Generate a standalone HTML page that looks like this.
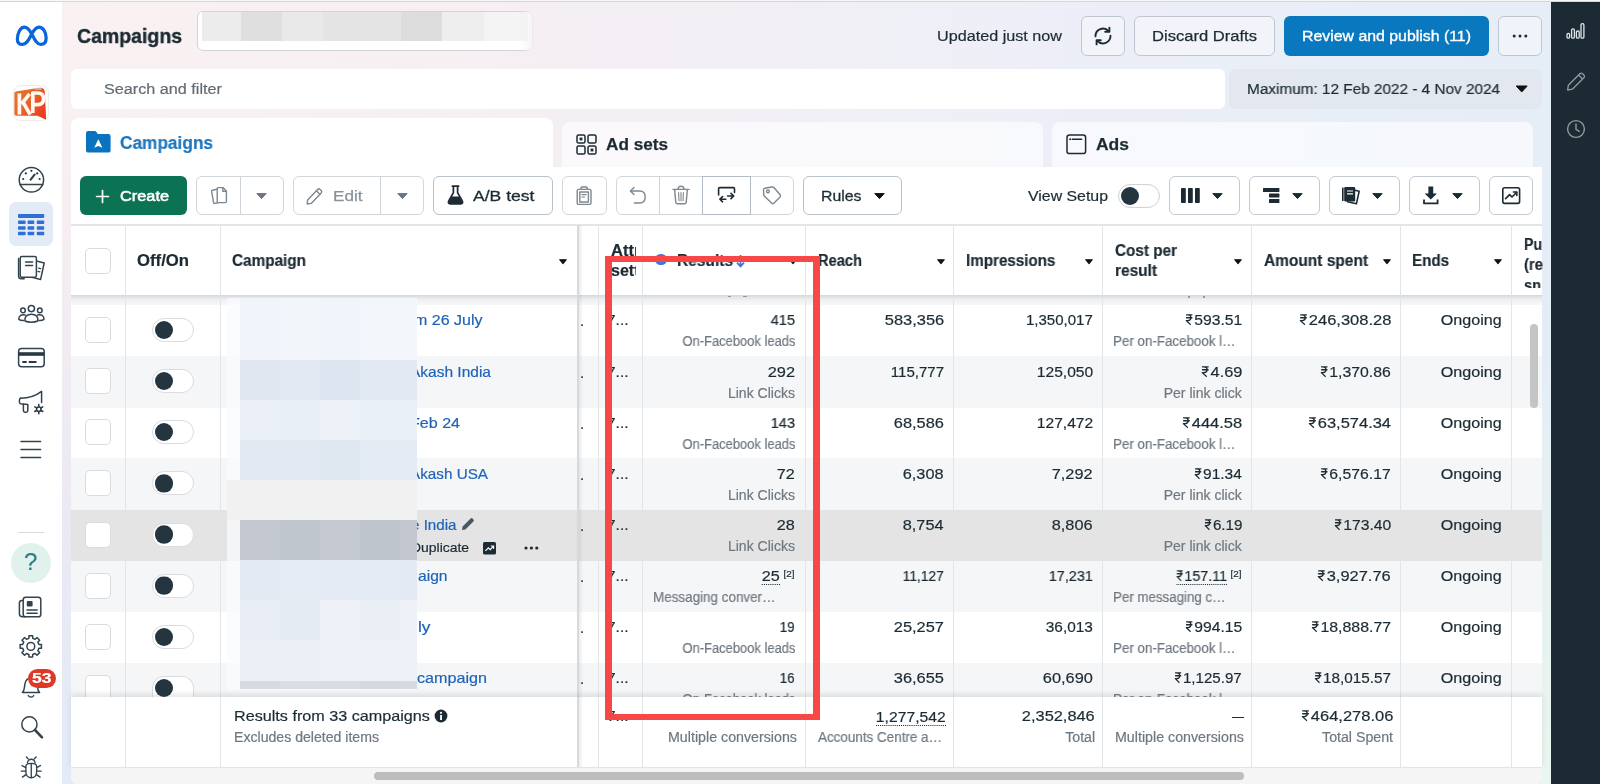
<!DOCTYPE html>
<html><head><meta charset="utf-8"><title>Campaigns</title>
<style>
html,body{margin:0;padding:0;}
body{width:1600px;height:784px;overflow:hidden;position:relative;font-family:"Liberation Sans",sans-serif;background:#fff;}
body>div,body>svg,body>span{position:absolute;display:block;box-sizing:border-box;}
.t{white-space:pre;font-family:"Liberation Sans",sans-serif;will-change:transform;-webkit-text-stroke:.2px currentColor;}
svg{overflow:visible;}
.btn{border:1px solid #c8d0d8;border-radius:5px;background:#fff;}
</style></head>
<body>
<div style="left:0px;top:0px;width:1600px;height:784px;background:linear-gradient(90deg,#faf1f1 0%,#f6eff3 30%,#efeff7 58%,#e8eef7 85%,#e5edf6 100%);"></div>
<div style="left:62px;top:110px;width:9px;height:674px;background:linear-gradient(180deg,#f9f0f1 0%,#f3ecf2 30%,#ebe9f4 60%,#e2ebf7 100%);"></div>
<div style="left:62px;top:740px;width:30px;height:44px;background:#e3ebf7;"></div>
<div style="left:0px;top:0px;width:62px;height:784px;background:#fff;"></div>
<div style="left:1541px;top:0px;width:10px;height:784px;background:linear-gradient(180deg,#e6edf6 0%,#e4edf6 45%,#e7f2f1 75%,#e9f5ee 100%);"></div>
<div style="left:1551px;top:0px;width:49px;height:784px;background:#1c2b33;"></div>
<div style="left:0px;top:0px;width:1600px;height:1px;background:#f7f7f7;"></div>
<div style="left:0px;top:1px;width:1600px;height:1px;background:#d6d6d6;"></div>
<svg style="left:13.5px;top:23.6px;" width="35.5" height="24" viewBox="0 0 34 23"><path d="M3.2 14.5 C3.2 8.5 6.3 3 10 3 C13.2 3 15.2 6.2 17 9.6 C19.2 13.8 21.6 19.6 25.6 19.6 C28.9 19.6 30.8 17.2 30.8 13.4 C30.8 8 27.8 3 24 3 C20.8 3 18.8 6.2 17 9.6 C14.6 14 12.4 19.6 8.2 19.6 C5 19.6 3.2 17.6 3.2 14.5 Z" fill="none" stroke="#0a64dc" stroke-width="3.1" stroke-linejoin="round"/></svg>
<svg style="left:12.5px;top:84.5px;" width="36" height="36" viewBox="0 0 36 36"><defs><linearGradient id="kpg" x1="0" y1="0" x2="1" y2=".6"><stop offset="0" stop-color="#e0782c"/><stop offset=".5" stop-color="#e8642a"/><stop offset="1" stop-color="#ea3f20"/></linearGradient></defs><rect x=".5" y=".5" width="35" height="35" rx="7" fill="#fffdfc" stroke="#ececee" stroke-width="1"/><path d="M1.4 8.4 Q1.2 6.8 2.8 6.5 L26.6 2.8 Q31.2 2.3 31.8 6.8 L33.2 34.8 L24.4 30.8 L3.2 30.8 Q1.4 30.8 1.4 28.8 Z" fill="url(#kpg)"/><g fill="none" stroke="#fff8f0" stroke-width="3.7" stroke-linejoin="round"><path d="M6.4 8.4 V29.6"/><path d="M16.6 8.8 L8.4 19.2"/><path d="M10.2 17.4 L17.2 29.6"/><path d="M19.8 28 V8 H24.8 Q30.6 8 30.6 13.8 Q30.6 19.6 24.8 19.6 H19.8"/></g><rect x="22" y="3.2" width="6.4" height="1.5" fill="#c6c6c6"/></svg>
<svg style="left:17px;top:165px;" width="30" height="30" viewBox="0 0 30 30"><g fill="none" stroke="#33434d" stroke-width="1.5" stroke-linecap="round" stroke-linejoin="round"><circle cx="14.4" cy="14.8" r="12.2"/><path d="M3 19.4 H25.8"/><path d="M13.6 14.6 L17.6 9.6" stroke-width="2.2"/></g><g fill="#283943"><circle cx="6.2" cy="14" r="1.1"/><circle cx="8.8" cy="8.4" r="1.1"/><circle cx="14.4" cy="5.8" r="1.1"/><circle cx="20.2" cy="8.4" r="1.1"/><circle cx="22.6" cy="14" r="1.1"/></g></svg>
<div style="left:9px;top:202px;width:44px;height:44px;background:#e2ebf6;border-radius:7px;"></div>
<svg style="left:18px;top:214px;" width="27" height="22" viewBox="0 0 27 22"><g fill="#2f6fd6"><rect x="0" y="0" width="26.2" height="4" rx="1"/><rect x="0" y="6.6" width="7.6" height="3.4" rx=".8"/><rect x="9.6" y="6.6" width="6.6" height="3.4" rx=".8"/><rect x="18.8" y="6.6" width="7.4" height="3.4" rx=".8"/><rect x="0" y="12.3" width="7.6" height="3.4" rx=".8"/><rect x="9.6" y="12.3" width="6.6" height="3.4" rx=".8"/><rect x="18.8" y="12.3" width="7.4" height="3.4" rx=".8"/><rect x="0" y="17.8" width="7.6" height="3.4" rx=".8"/><rect x="9.6" y="17.8" width="6.6" height="3.4" rx=".8"/><rect x="18.8" y="17.8" width="7.4" height="3.4" rx=".8"/></g></svg>
<svg style="left:17px;top:254px;" width="30" height="28" viewBox="0 0 30 28"><g fill="none" stroke="#33434d" stroke-width="1.5" stroke-linecap="round" stroke-linejoin="round"><path d="M20.5 7.2 L27.2 9 L23.6 25.4 L13 22.8" /><rect x="3.2" y="2.6" width="16.2" height="20.6" rx="1.6" fill="#fff"/><path d="M1.6 4.6 V22 Q1.6 24.8 4.4 24.8 H7.2"/><path d="M8.6 8 H15.6 M8.6 11.6 H15.6"/><path d="M21.6 14.2 L23.6 14.7 M21 17.4 L22.8 17.9" stroke-width="1.3"/></g></svg>
<svg style="left:17px;top:302px;" width="30" height="26" viewBox="0 0 30 26"><g fill="none" stroke="#33434d" stroke-width="1.5" stroke-linecap="round" stroke-linejoin="round" stroke-width="1.5"><circle cx="14.4" cy="6.6" r="3.1"/><circle cx="6" cy="8.4" r="2.3"/><circle cx="22.8" cy="8.4" r="2.3"/><path d="M8 19 C7.4 15 9.8 12.2 14.4 12.2 C19 12.2 21.4 15 20.8 19 C17.4 20.6 11.4 20.6 8 19 Z"/><path d="M8.2 13 C4.8 12 1.6 13.8 1.8 17.4 C3.4 18.4 5.2 18.6 6.8 18.4"/><path d="M20.6 13 C24 12 27.2 13.8 27 17.4 C25.4 18.4 23.6 18.6 22 18.4"/></g></svg>
<svg style="left:17px;top:346px;" width="30" height="24" viewBox="0 0 30 24"><g fill="none" stroke="#33434d" stroke-width="1.5" stroke-linecap="round" stroke-linejoin="round"><rect x="1.6" y="2.6" width="25.6" height="18.2" rx="3"/></g><rect x="1.6" y="6.2" width="25.6" height="3.6" fill="#283943"/><rect x="5.2" y="15" width="4.6" height="1.9" rx=".6" fill="#283943"/><rect x="11.6" y="15" width="8" height="1.9" rx=".6" fill="#283943"/></svg>
<svg style="left:17px;top:388px;" width="30" height="28" viewBox="0 0 30 28"><g fill="none" stroke="#33434d" stroke-width="1.5" stroke-linecap="round" stroke-linejoin="round"><path d="M3.4 10.2 C10 10.2 18 8.6 24.6 3.4 V14.6"/><path d="M3.4 10.2 C2 10.8 2 15 3.4 15.8 C5.4 16 8 16.2 10.4 16.4"/><path d="M6.4 16.2 V22.6 Q6.4 24.2 8 24.2 H9.2 Q10.8 24.2 10.8 22.6 V16.6"/></g><g fill="none" stroke="#283943" stroke-width="1.5"><circle cx="21.8" cy="21.2" r="2.2"/><path d="M21.8 16.6 v2 M21.8 23.8 v2 M17.8 18.9 l1.7 1 M24.1 22.5 l1.7 1 M17.8 23.5 l1.7-1 M24.1 19.9 l1.7-1" stroke-linecap="round"/></g></svg>
<svg style="left:20px;top:437.5px;" width="22" height="24" viewBox="0 0 22 24"><g fill="none" stroke="#33434d" stroke-width="1.5" stroke-linecap="round" stroke-linejoin="round" stroke-width="1.5"><path d="M1 3.6 H20.6 M1 11.6 H20.6 M1 19.6 H20.6"/></g></svg>
<div style="left:18px;top:532px;width:26px;height:1px;background:#d6dade;"></div>
<div style="left:11px;top:542.5px;width:40px;height:40px;background:#e1f2ed;border-radius:50%;"></div>
<span class="t" style="top:549.3px;font-size:24px;line-height:26px;color:#2a7f86;left:31px;transform-origin:0 0;margin-left:-6.6px;">?</span>
<svg style="left:17px;top:594px;" width="30" height="26" viewBox="0 0 30 26"><g fill="none" stroke="#33434d" stroke-width="1.5" stroke-linecap="round" stroke-linejoin="round"><rect x="6.2" y="3.2" width="17.6" height="19.6" rx="2.6"/><path d="M6.2 6.6 H5 Q2.4 6.6 2.4 9.2 V19.8 Q2.4 22.8 5.4 22.8 H8"/><path d="M10 16 H20.2 M10 19.2 H20.2" stroke-width="1.4"/></g><rect x="9.8" y="7" width="5.8" height="5.6" rx="1" fill="#33434d"/></svg>
<svg style="left:17px;top:632px;" width="28" height="28" viewBox="0 0 28 28"><g fill="none" stroke="#33434d" stroke-width="1.5" stroke-linecap="round" stroke-linejoin="round"><path d="M11.94 3.76 L15.66 3.76 L15.74 6.33 L18.14 7.32 L20.01 5.56 L22.64 8.19 L20.88 10.06 L21.87 12.46 L24.44 12.54 L24.44 16.26 L21.87 16.34 L20.88 18.74 L22.64 20.61 L20.01 23.24 L18.14 21.48 L15.74 22.47 L15.66 25.04 L11.94 25.04 L11.86 22.47 L9.46 21.48 L7.59 23.24 L4.96 20.61 L6.72 18.74 L5.73 16.34 L3.16 16.26 L3.16 12.54 L5.73 12.46 L6.72 10.06 L4.96 8.19 L7.59 5.56 L9.46 7.32 L11.86 6.33 Z"/><circle cx="13.8" cy="14.4" r="3.9"/></g></svg>
<svg style="left:18px;top:672px;" width="28" height="30" viewBox="0 0 28 30"><g fill="none" stroke="#33434d" stroke-width="1.5" stroke-linecap="round" stroke-linejoin="round"><path d="M4.4 20.6 C6.8 18.4 6.2 15 7 11.6 C7.8 8 10 6 13 6 C16 6 18.2 8 19 11.6 C19.8 15 19.2 18.4 21.6 20.6 Z"/><path d="M10.4 23.6 C11 25.6 15 25.6 15.6 23.6"/></g></svg>
<div style="left:27.5px;top:668.5px;width:28.5px;height:19px;background:#dc3a26;border-radius:10px;"></div>
<span class="t" style="top:670.0px;font-size:14px;line-height:16px;color:#fff;font-weight:700;left:32px;transform-origin:0 0;transform:scaleX(1.252);">53</span>
<svg style="left:18px;top:713px;" width="28" height="28" viewBox="0 0 28 28"><g fill="none" stroke="#33434d" stroke-width="1.5" stroke-linecap="round" stroke-linejoin="round" stroke-width="1.9"><circle cx="11.4" cy="11.4" r="7.6"/><path d="M17 17 L24 24.4" stroke-width="2.6"/></g></svg>
<svg style="left:17px;top:753px;" width="30" height="30" viewBox="0 0 30 30"><g fill="none" stroke="#33434d" stroke-width="1.5" stroke-linecap="round" stroke-linejoin="round" transform="translate(1.3 1.6) scale(.9)"><path d="M8.4 13.2 C8.4 8.6 20.4 8.6 20.4 13.2 V19 C20.4 28 8.4 28 8.4 19 Z"/><path d="M14.4 10 V25.4"/><path d="M10.2 9.4 C10 3.8 18.8 3.8 18.6 9.4"/><path d="M8.4 14.4 L4.2 12.2 M8.4 18.4 H3.4 M8.6 22.2 L4.6 25 M20.4 14.4 L24.6 12.2 M20.4 18.4 H25.4 M20.2 22.2 L24.2 25 M11 4.8 L9 2.6 M17.8 4.8 L19.8 2.6"/></g></svg>
<svg style="left:1566px;top:22px;" width="20" height="18" viewBox="0 0 20 18"><g fill="none" stroke="#dfe5ea" stroke-width="1.3" stroke-linecap="round" stroke-linejoin="round"><rect x="1" y="11.4" width="2.6" height="4.8" rx="1.2"/><rect x="5.6" y="6.8" width="2.8" height="9.4" rx="1.3"/><rect x="10.4" y="9" width="2.8" height="7.2" rx="1.3"/><rect x="15" y="1.6" width="2.9" height="14.6" rx="1.3"/></g></svg>
<svg style="left:1566px;top:70px;" width="22" height="22" viewBox="0 0 22 22"><g fill="none" stroke="#8f9aa2" stroke-width="1.3" stroke-linejoin="round"><path d="M2.4 15.2 L13.8 3.8 Q15.2 2.4 16.6 3.8 L17.8 5 Q19.2 6.4 17.8 7.8 L6.4 19.2 L1.6 20 Z"/><path d="M12.6 5 L16.6 9"/></g></svg>
<svg style="left:1566px;top:119px;" width="20" height="20" viewBox="0 0 20 20"><g fill="none" stroke="#8f9aa2" stroke-width="1.4" stroke-linecap="round"><circle cx="10" cy="10" r="8.4"/><path d="M10 5 V10.4 L13.2 12.4"/></g></svg>
<span class="t" style="top:23.0px;font-size:21px;line-height:26px;color:#1c2b33;font-weight:700;left:77px;transform-origin:0 0;transform:scaleX(0.928);-webkit-text-stroke:.4px #1c2b33;">Campaigns</span>
<div style="left:197px;top:11px;width:336px;height:40px;background:#fff;border:1px solid #d3d3d6;border-radius:6px;overflow:hidden;background-image:linear-gradient(90deg,#ececec 0 39px,#dfdfdf 39px 80px,#e9e9e9 80px 121px,#e4e4e4 121px 199px,#dddddd 199px 240px,#eeeeee 240px 282px,#f4f4f4 282px 326px);background-size:326px 29px;background-repeat:no-repeat;background-position:4px 0;"></div>
<div style="left:520px;top:9px;width:16px;height:44px;background:linear-gradient(90deg,rgba(245,239,243,0),#f4eff4);"></div>
<span class="t" style="top:26.0px;font-size:15.5px;line-height:20px;color:#1c2b33;left:937px;transform-origin:0 0;transform:scaleX(1.044);">Updated just now</span>
<div style="left:1081px;top:15.6px;width:44px;height:40px;background:#f3f4fa;border:1.2px solid #bfc6ce;border-radius:6px;"></div>
<svg style="left:1092px;top:25px;" width="22" height="22" viewBox="0 0 22 22"><g fill="none" stroke="#1c2b33" stroke-width="1.9" stroke-linecap="round" stroke-linejoin="round"><path d="M3.5 11.4 A7.5 7.5 0 0 1 16.6 6.2"/><path d="M17.4 2.6 V6.8 H13.2"/><path d="M18.5 10.6 A7.5 7.5 0 0 1 5.4 15.8"/><path d="M4.6 19.4 V15.2 H8.8"/></g></svg>
<div style="left:1134px;top:15.6px;width:141px;height:40px;background:#f3f4fa;border:1.2px solid #bfc6ce;border-radius:6px;"></div>
<span class="t" style="top:26.0px;font-size:15.5px;line-height:20px;color:#1c2b33;left:1152px;transform-origin:0 0;transform:scaleX(1.069);-webkit-text-stroke:.25px #1c2b33;">Discard Drafts</span>
<div style="left:1284px;top:15.6px;width:205px;height:40px;background:#0a78be;border-radius:6px;"></div>
<span class="t" style="top:26.0px;font-size:15.5px;line-height:20px;color:#fff;left:1302px;transform-origin:0 0;transform:scaleX(1.023);-webkit-text-stroke:.35px #fff;">Review and publish (11)</span>
<div style="left:1498px;top:15.6px;width:44px;height:40px;background:#f0f3f9;border:1.2px solid #bfc6ce;border-radius:6px;"></div>
<svg style="left:1512px;top:33px;" width="16" height="6" viewBox="0 0 16 6"><g fill="#1c2b33"><circle cx="2.2" cy="3" r="1.5"/><circle cx="8" cy="3" r="1.5"/><circle cx="13.8" cy="3" r="1.5"/></g></svg>
<div style="left:71px;top:69px;width:1154px;height:40px;background:#fff;border-radius:6px;"></div>
<span class="t" style="top:79.0px;font-size:15.5px;line-height:20px;color:#616b73;left:104px;transform-origin:0 0;transform:scaleX(1.045);">Search and filter</span>
<div style="left:1229px;top:69px;width:313px;height:40px;background:#e3e8f0;border-radius:6px;"></div>
<span class="t" style="top:79.0px;font-size:15.5px;line-height:20px;color:#1c2b33;left:1247px;transform-origin:0 0;transform:scaleX(0.989);">Maximum: 12 Feb 2022 - 4 Nov 2024</span>
<svg style="left:1515px;top:85px;" width="14" height="8" viewBox="0 0 14 8"><path d="M1.2 1 H12.2 L6.7 7 Z" fill="#111" stroke="#111" stroke-width="1" stroke-linejoin="round"/></svg>
<div style="left:562px;top:122px;width:481px;height:50px;background:rgba(255,255,255,.62);border-radius:8px 8px 0 0;"></div>
<div style="left:1052px;top:122px;width:481px;height:50px;background:rgba(255,255,255,.62);border-radius:8px 8px 0 0;"></div>
<div style="left:71px;top:118px;width:482px;height:54px;background:#fff;border-radius:8px 8px 0 0;"></div>
<div style="left:71px;top:166.6px;width:1471px;height:619.6px;background:#fff;border-radius:0 0 10px 10px;"></div>
<svg style="left:85.7px;top:131.3px;" width="25" height="22" viewBox="0 0 25 22"><path d="M0 2.2 Q0 0 2.2 0 H8.4 Q9.8 0 10.6 1.2 L11.8 3 H22.4 Q24.6 3 24.6 5.2 V19.4 Q24.6 21.6 22.4 21.6 H2.2 Q0 21.6 0 19.4 Z" fill="#0a73c0"/><path d="M12.3 8.2 L16.4 16.8 L12.3 14.9 L8.2 16.8 Z" fill="#fff"/></svg>
<span class="t" style="top:132.0px;font-size:17.5px;line-height:22px;color:#1d76bd;font-weight:700;left:120px;transform-origin:0 0;transform:scaleX(0.986);">Campaigns</span>
<svg style="left:576px;top:134px;" width="22" height="22" viewBox="0 0 22 22"><g fill="none" stroke="#1c2b33" stroke-width="1.5"><rect x="1" y="1" width="8" height="8" rx="1.6"/><rect x="12" y="1" width="8" height="8" rx="1.6"/><rect x="1" y="12" width="8" height="8" rx="1.6"/><rect x="12" y="12" width="8" height="8" rx="1.6"/></g><rect x="3.6" y="3.6" width="2.8" height="2.8" fill="#1c2b33"/><rect x="14.6" y="14.6" width="2.8" height="2.8" fill="#1c2b33"/></svg>
<span class="t" style="top:134.0px;font-size:17px;line-height:22px;color:#1c2b33;font-weight:700;left:606px;transform-origin:0 0;transform:scaleX(1.009);-webkit-text-stroke:.25px #1c2b33;">Ad sets</span>
<svg style="left:1066px;top:134px;" width="22" height="22" viewBox="0 0 22 22"><g fill="none" stroke="#1c2b33" stroke-width="1.5"><rect x="1" y="1" width="18.6" height="18.6" rx="2.4"/><path d="M6.4 5.2 H15.6" stroke-linecap="round"/></g><circle cx="4.2" cy="5.2" r="1" fill="#1c2b33"/></svg>
<span class="t" style="top:134.0px;font-size:17px;line-height:22px;color:#1c2b33;font-weight:700;left:1096px;transform-origin:0 0;transform:scaleX(1.027);-webkit-text-stroke:.25px #1c2b33;">Ads</span>
<div style="left:80px;top:175.9px;width:107px;height:39.4px;background:#0b7353;border-radius:6px;"></div>
<svg style="left:96px;top:190px;" width="13" height="13" viewBox="0 0 13 13"><path d="M6.5 .6 V12.4 M.6 6.5 H12.4" stroke="#fff" stroke-width="1.7" stroke-linecap="round"/></svg>
<span class="t" style="top:186.0px;font-size:15.5px;line-height:20px;color:#fff;left:120px;transform-origin:0 0;transform:scaleX(1.053);-webkit-text-stroke:.55px #fff;">Create</span>
<div style="left:196px;top:175.9px;width:88px;height:39.4px;background:#fff;border:1px solid #d2d7dc;border-radius:6px;"></div>
<div style="left:240px;top:177px;width:1px;height:37px;background:#cdd3d9;"></div>
<svg style="left:210px;top:186px;" width="18" height="20" viewBox="0 0 18 20"><g fill="none" stroke="#7d8890" stroke-width="1.4" stroke-linecap="round" stroke-linejoin="round"><path d="M6.8 3.2 L2.4 4.2 Q1.4 4.4 1.6 5.4 L3.6 16.6 Q3.8 17.6 4.8 17.4 L8 16.8"/><path d="M7.2 2.6 Q7.2 1.6 8.2 1.6 H13 L16.4 5 V15.6 Q16.4 16.6 15.4 16.6 H8.2 Q7.2 16.6 7.2 15.6 Z"/><path d="M12.8 1.8 V5.2 H16.2"/></g></svg>
<svg style="left:256px;top:193px;" width="11" height="6" viewBox="0 0 11 6"><path d="M.8 .6 H10.2 L5.5 5.6 Z" fill="#6b7680" stroke="#6b7680" stroke-width="1" stroke-linejoin="round"/></svg>
<div style="left:293px;top:175.9px;width:131px;height:39.4px;background:#fff;border:1px solid #d2d7dc;border-radius:6px;"></div>
<div style="left:380px;top:177px;width:1px;height:37px;background:#cdd3d9;"></div>
<svg style="left:306px;top:186px;" width="18" height="20" viewBox="0 0 18 20"><g fill="none" stroke="#7d8890" stroke-width="1.4" stroke-linecap="round" stroke-linejoin="round"><path d="M1.6 14 L11.6 3.4 Q12.8 2.2 14 3.4 L15.2 4.6 Q16.4 5.8 15.2 7 L5.2 17.4 L1.2 18 Z"/><path d="M10.4 4.8 L13.8 8.2"/></g></svg>
<span class="t" style="top:186.0px;font-size:15.5px;line-height:20px;color:#88929a;left:333px;transform-origin:0 0;transform:scaleX(1.104);-webkit-text-stroke:.25px #88929a;">Edit</span>
<svg style="left:397px;top:193px;" width="11" height="6" viewBox="0 0 11 6"><path d="M.8 .6 H10.2 L5.5 5.6 Z" fill="#6b7680" stroke="#6b7680" stroke-width="1" stroke-linejoin="round"/></svg>
<div style="left:433px;top:175.9px;width:120px;height:39.4px;background:#fff;border:1.2px solid #b9c1c9;border-radius:6px;"></div>
<svg style="left:447px;top:185px;" width="17" height="20" viewBox="0 0 17 20"><path d="M5.4 1.2 H11.6 M6.4 1.2 V7.6 L1.6 16.2 Q.8 18.6 3.2 18.8 H13.8 Q16.2 18.6 15.4 16.2 L10.6 7.6 V1.2" fill="none" stroke="#1c2b33" stroke-width="1.7" stroke-linecap="round" stroke-linejoin="round"/><path d="M4.6 11.4 H12.4 L15 16.4 Q15.6 18.4 13.6 18.4 H3.4 Q1.4 18.4 2 16.4 Z" fill="#1c2b33"/></svg>
<span class="t" style="top:186.0px;font-size:15.5px;line-height:20px;color:#1c2b33;left:473px;transform-origin:0 0;transform:scaleX(1.133);-webkit-text-stroke:.3px #1c2b33;">A/B test</span>
<div style="left:562px;top:175.9px;width:45px;height:39.4px;background:#fff;border:1px solid #d2d7dc;border-radius:6px;"></div>
<svg style="left:576px;top:186px;" width="17" height="20" viewBox="0 0 17 20"><g fill="none" stroke="#7d8890" stroke-width="1.4" stroke-linecap="round" stroke-linejoin="round"><rect x="1.2" y="3.4" width="13.8" height="15" rx="1.4"/><path d="M5 3.4 V2 Q5 1 6 1 H10.2 Q11.2 1 11.2 2 V3.4"/><rect x="3.8" y="6" width="8.6" height="10" /><path d="M5.8 8.6 H10.2 M5.8 11 H8.6" stroke-width="1.2"/></g></svg>
<div style="left:616px;top:175.9px;width:178px;height:39.4px;background:#fff;border:1px solid #d2d7dc;border-radius:6px;"></div>
<div style="left:659px;top:177px;width:1px;height:37px;background:#cdd3d9;"></div>
<div style="left:702px;top:175.9px;width:49px;height:39.4px;border:1px solid #b3bcc5;border-radius:0;"></div>
<svg style="left:629px;top:186px;" width="18" height="19" viewBox="0 0 18 19"><g fill="none" stroke="#7d8890" stroke-width="1.4" stroke-linecap="round" stroke-linejoin="round"><path d="M5 1.6 L1.4 5 L5 8.4"/><path d="M1.8 5 H10.6 Q16.2 5 16.2 11 Q16.2 17 10.6 17 H5.4"/></g></svg>
<svg style="left:672px;top:185px;" width="18" height="20" viewBox="0 0 18 20"><g fill="none" stroke="#7d8890" stroke-width="1.4" stroke-linecap="round" stroke-linejoin="round"><path d="M1 4.4 H17"/><path d="M6 4.2 Q6 1.2 9 1.2 Q12 1.2 12 4.2"/><path d="M2.6 4.6 L3.8 17.4 Q4 18.8 5.4 18.8 H12.6 Q14 18.8 14.2 17.4 L15.4 4.6"/><path d="M6.6 7.6 L7 15.8 M9 7.6 V15.8 M11.4 7.6 L11 15.8" stroke-width="1.1"/></g></svg>
<svg style="left:717px;top:185px;" width="19" height="20" viewBox="0 0 19 20"><g fill="none" stroke="#1c2b33" stroke-width="1.6" stroke-linecap="round" stroke-linejoin="round" stroke-width="1.7"><path d="M1.6 10 V3.7 Q1.6 2.6 2.7 2.6 H16.4 Q17.5 2.6 17.5 3.7 V7.4"/><path d="M10.6 11 H16.4 M14 8.4 L16.7 11 L14 13.6"/><path d="M8.8 14.2 H3 M5.6 11.6 L2.9 14.2 L5.6 16.8"/></g></svg>
<svg style="left:761px;top:185px;" width="21" height="21" viewBox="0 0 21 21"><g fill="none" stroke="#7d8890" stroke-width="1.4" stroke-linecap="round" stroke-linejoin="round"><path d="M2.5 5.2 Q2.3 3.6 3.8 3.3 L10.8 2 Q12.2 1.8 13.1 2.8 L19.1 9.8 Q20 10.9 19 12 L12.8 18.3 Q11.8 19.3 10.8 18.3 L3.5 11.3 Q2.9 10.7 2.8 9.8 Z"/><circle cx="6.9" cy="6.4" r="1.4"/></g></svg>
<div style="left:803px;top:175.9px;width:99px;height:39.4px;background:#fff;border:1.2px solid #b9c1c9;border-radius:6px;"></div>
<span class="t" style="top:186.0px;font-size:15.5px;line-height:20px;color:#1c2b33;left:821px;transform-origin:0 0;transform:scaleX(1.022);-webkit-text-stroke:.3px #1c2b33;">Rules</span>
<svg style="left:874px;top:193px;" width="11" height="6" viewBox="0 0 11 6"><path d="M.8 .6 H10.2 L5.5 5.6 Z" fill="#111" stroke="#111" stroke-width="1" stroke-linejoin="round"/></svg>
<span class="t" style="top:186.0px;font-size:15.5px;line-height:20px;color:#1c2b33;left:1028px;transform-origin:0 0;transform:scaleX(1.024);">View Setup</span>
<div style="left:1118px;top:184px;width:42px;height:24px;background:#fff;border:1px solid #cfd5da;border-radius:12px;box-shadow:inset 0 0 2px rgba(0,0,0,.08);"></div>
<div style="left:1120.8px;top:186.8px;width:18.4px;height:18.4px;background:#243540;border-radius:50%;"></div>
<div style="left:1169px;top:175.9px;width:71px;height:39.4px;background:#fff;border:1.2px solid #c3cad1;border-radius:6px;"></div>
<div style="left:1249px;top:175.9px;width:71px;height:39.4px;background:#fff;border:1.2px solid #c3cad1;border-radius:6px;"></div>
<div style="left:1329px;top:175.9px;width:71px;height:39.4px;background:#fff;border:1.2px solid #c3cad1;border-radius:6px;"></div>
<div style="left:1409px;top:175.9px;width:71px;height:39.4px;background:#fff;border:1.2px solid #c3cad1;border-radius:6px;"></div>
<div style="left:1489px;top:175.9px;width:44px;height:39.4px;background:#fff;border:1.2px solid #c3cad1;border-radius:6px;"></div>
<svg style="left:1181px;top:188px;" width="19" height="15" viewBox="0 0 19 15"><g fill="#1c2b33"><rect x="0" y="0" width="4.8" height="15" rx=".8"/><rect x="7" y="0" width="4.8" height="15" rx=".8"/><rect x="14" y="0" width="4.8" height="15" rx=".8"/></g></svg>
<svg style="left:1212px;top:193px;" width="11" height="6" viewBox="0 0 11 6"><path d="M.8 .6 H10.2 L5.5 5.6 Z" fill="#1c2b33" stroke="#1c2b33" stroke-width="1" stroke-linejoin="round"/></svg>
<svg style="left:1263px;top:188px;" width="17" height="15" viewBox="0 0 17 15"><g fill="#1c2b33"><rect x="0" y="0" width="16.4" height="4" rx=".6"/><rect x="6" y="5.6" width="10.4" height="3.8" rx=".6"/><rect x="6" y="11" width="10.4" height="4" rx=".6"/></g></svg>
<svg style="left:1292px;top:193px;" width="11" height="6" viewBox="0 0 11 6"><path d="M.8 .6 H10.2 L5.5 5.6 Z" fill="#1c2b33" stroke="#1c2b33" stroke-width="1" stroke-linejoin="round"/></svg>
<svg style="left:1341px;top:186px;" width="20" height="19" viewBox="0 0 20 19"><path d="M9.4 3.2 L18.2 5.2 L15.4 17.8 L6.6 15.8 Z" fill="#fff" stroke="#1c2b33" stroke-width="1.6" stroke-linejoin="round"/><rect x="3.2" y="1" width="11" height="14.4" rx="1.2" fill="#1c2b33"/><rect x="1" y="1.6" width="1.6" height="13.4" fill="#1c2b33"/><path d="M6 5 H12 M6 7.8 H12" stroke="#fff" stroke-width="1.2"/></svg>
<svg style="left:1372px;top:193px;" width="11" height="6" viewBox="0 0 11 6"><path d="M.8 .6 H10.2 L5.5 5.6 Z" fill="#1c2b33" stroke="#1c2b33" stroke-width="1" stroke-linejoin="round"/></svg>
<svg style="left:1423px;top:186px;" width="16" height="19" viewBox="0 0 16 19"><path d="M5.4 .4 H10.2 V7.4 H14 L7.8 13.4 L1.6 7.4 H5.4 Z" fill="#1c2b33"/><path d="M1 13.6 V17.4 H14.6 V13.6" fill="none" stroke="#1c2b33" stroke-width="1.8" stroke-linejoin="round"/></svg>
<svg style="left:1452px;top:193px;" width="11" height="6" viewBox="0 0 11 6"><path d="M.8 .6 H10.2 L5.5 5.6 Z" fill="#1c2b33" stroke="#1c2b33" stroke-width="1" stroke-linejoin="round"/></svg>
<svg style="left:1502px;top:187px;" width="19" height="18" viewBox="0 0 19 18"><g fill="none" stroke="#1c2b33" stroke-width="1.6" stroke-linecap="round" stroke-linejoin="round" stroke-width="1.5"><rect x=".8" y=".8" width="16.8" height="15.6" rx="1.8"/><path d="M3.6 11.6 L7.6 7.6 L10 10 L14.6 5.4"/><path d="M11.4 5 H14.8 V8.4"/></g></svg>
<div style="left:71px;top:295px;width:1471px;height:10px;background:#f5f6f7;"></div>
<div style="left:71px;top:356.20000000000005px;width:1471px;height:51.800000000000004px;background:#f5f6f7;"></div>
<div style="left:71px;top:458.40000000000003px;width:1471px;height:51.800000000000004px;background:#f5f6f7;"></div>
<div style="left:71px;top:509.5px;width:1471px;height:51.800000000000004px;background:#e4e4e4;"></div>
<div style="left:71px;top:560.6px;width:1471px;height:51.800000000000004px;background:#f5f6f7;"></div>
<div style="left:71px;top:662.8px;width:1471px;height:34.200000000000045px;background:#f5f6f7;"></div>
<div style="left:71px;top:224.3px;width:1471px;height:1.5px;background:#e3e6e9;"></div>
<div style="left:71px;top:295px;width:1471px;height:8px;background:linear-gradient(180deg,rgba(120,128,138,.26),rgba(120,128,138,.08) 50%,rgba(120,128,138,0));"></div>
<div style="left:124.6px;top:225px;width:1px;height:543px;background:#e3e6e9;"></div>
<div style="left:219.7px;top:225px;width:1px;height:543px;background:#e3e6e9;"></div>
<div style="left:597.9px;top:225px;width:1px;height:543px;background:#e3e6e9;"></div>
<div style="left:641.9px;top:225px;width:1px;height:543px;background:#e3e6e9;"></div>
<div style="left:804.5px;top:225px;width:1px;height:543px;background:#e3e6e9;"></div>
<div style="left:953.2px;top:225px;width:1px;height:543px;background:#e3e6e9;"></div>
<div style="left:1102px;top:225px;width:1px;height:543px;background:#e3e6e9;"></div>
<div style="left:1250.9px;top:225px;width:1px;height:543px;background:#e3e6e9;"></div>
<div style="left:1399.9px;top:225px;width:1px;height:543px;background:#e3e6e9;"></div>
<div style="left:1511px;top:225px;width:1px;height:543px;background:#e3e6e9;"></div>
<div style="left:577px;top:225px;width:1.6px;height:543px;background:#d6d9dd;"></div>
<div style="left:578.6px;top:225px;width:4px;height:543px;background:linear-gradient(90deg,rgba(110,118,128,.14),rgba(110,118,128,0));"></div>
<div style="left:85px;top:248px;width:26px;height:26px;background:#fff;border:1.3px solid #d8dce0;border-radius:5px;"></div>
<span class="t" style="top:251.0px;font-size:16px;line-height:20px;color:#1c2b33;font-weight:700;left:137px;transform-origin:0 0;transform:scaleX(1.045);">Off/On</span>
<span class="t" style="top:251.0px;font-size:16px;line-height:20px;color:#1c2b33;font-weight:700;left:232px;transform-origin:0 0;transform:scaleX(0.957);">Campaign</span>
<span class="t" style="top:241.0px;font-size:16px;line-height:20px;color:#1c2b33;font-weight:700;left:611px;transform-origin:0 0;transform:scaleX(1.037);">Attr</span>
<span class="t" style="top:261.0px;font-size:16px;line-height:20px;color:#1c2b33;font-weight:700;left:611px;transform-origin:0 0;">sett</span>
<div style="left:635.6px;top:240px;width:6.4px;height:42px;background:#fff;"></div>
<div style="left:655px;top:253.6px;width:11.6px;height:11.6px;background:#3f78d8;border-radius:50%;"></div>
<span class="t" style="top:251.0px;font-size:16px;line-height:20px;color:#1c2b33;font-weight:700;left:677px;transform-origin:0 0;transform:scaleX(0.969);">Results</span>
<svg style="left:736px;top:254px;" width="9" height="14" viewBox="0 0 9 14"><path d="M4.5 1 V12 M1 8.6 L4.5 12.4 L8 8.6" fill="none" stroke="#3f78d8" stroke-width="1.8"/></svg>
<span class="t" style="top:251.0px;font-size:16px;line-height:20px;color:#1c2b33;font-weight:700;left:818px;transform-origin:0 0;transform:scaleX(0.916);">Reach</span>
<span class="t" style="top:251.0px;font-size:16px;line-height:20px;color:#1c2b33;font-weight:700;left:966px;transform-origin:0 0;transform:scaleX(0.949);">Impressions</span>
<span class="t" style="top:241.0px;font-size:16px;line-height:20px;color:#1c2b33;font-weight:700;left:1115px;transform-origin:0 0;transform:scaleX(0.955);">Cost per</span>
<span class="t" style="top:261.0px;font-size:16px;line-height:20px;color:#1c2b33;font-weight:700;left:1115px;transform-origin:0 0;transform:scaleX(0.964);">result</span>
<span class="t" style="top:251.0px;font-size:16px;line-height:20px;color:#1c2b33;font-weight:700;left:1264px;transform-origin:0 0;transform:scaleX(0.967);">Amount spent</span>
<span class="t" style="top:251.0px;font-size:16px;line-height:20px;color:#1c2b33;font-weight:700;left:1412px;transform-origin:0 0;transform:scaleX(0.946);">Ends</span>
<span class="t" style="top:235.0px;font-size:16px;line-height:20px;color:#1c2b33;font-weight:700;left:1524px;transform-origin:0 0;transform:scaleX(0.880);">Pu</span>
<span class="t" style="top:255.0px;font-size:16px;line-height:20px;color:#1c2b33;font-weight:700;left:1524px;transform-origin:0 0;transform:scaleX(0.929);">(re</span>
<span class="t" style="top:275.5px;font-size:16px;line-height:20px;color:#1c2b33;font-weight:700;left:1524px;transform-origin:0 0;transform:scaleX(0.910);clip-path:inset(0 0 8px 0);">sn</span>
<svg style="left:558.6px;top:259.2px;" width="8" height="6" viewBox="0 0 8 6"><path d="M.7 .7 H7.3 L4 4.6 Z" fill="#111" stroke="#111" stroke-width="1.1" stroke-linejoin="round"/></svg>
<svg style="left:788.6px;top:259.2px;" width="8" height="6" viewBox="0 0 8 6"><path d="M.7 .7 H7.3 L4 4.6 Z" fill="#111" stroke="#111" stroke-width="1.1" stroke-linejoin="round"/></svg>
<svg style="left:936.6px;top:259.2px;" width="8" height="6" viewBox="0 0 8 6"><path d="M.7 .7 H7.3 L4 4.6 Z" fill="#111" stroke="#111" stroke-width="1.1" stroke-linejoin="round"/></svg>
<svg style="left:1085.1px;top:259.2px;" width="8" height="6" viewBox="0 0 8 6"><path d="M.7 .7 H7.3 L4 4.6 Z" fill="#111" stroke="#111" stroke-width="1.1" stroke-linejoin="round"/></svg>
<svg style="left:1233.6px;top:259.2px;" width="8" height="6" viewBox="0 0 8 6"><path d="M.7 .7 H7.3 L4 4.6 Z" fill="#111" stroke="#111" stroke-width="1.1" stroke-linejoin="round"/></svg>
<svg style="left:1382.6px;top:259.2px;" width="8" height="6" viewBox="0 0 8 6"><path d="M.7 .7 H7.3 L4 4.6 Z" fill="#111" stroke="#111" stroke-width="1.1" stroke-linejoin="round"/></svg>
<svg style="left:1493.6px;top:259.2px;" width="8" height="6" viewBox="0 0 8 6"><path d="M.7 .7 H7.3 L4 4.6 Z" fill="#111" stroke="#111" stroke-width="1.1" stroke-linejoin="round"/></svg>
<div style="left:85px;top:317.1px;width:26px;height:26px;background:#fff;border:1.3px solid #d8dce0;border-radius:5px;"></div>
<div style="left:152px;top:318.1px;width:42px;height:24px;background:#fff;border:1.2px solid #d9dce0;border-radius:12px;"></div>
<div style="left:154.8px;top:320.90000000000003px;width:18.4px;height:18.4px;background:#243540;border-radius:50%;clip-path:inset(0 0 0.0px 0);"></div>
<span class="t" style="top:310.4px;font-size:15px;line-height:20px;color:#1f63b8;left:414px;transform-origin:0 0;transform:scaleX(1.067);">m 26 July</span>
<span class="t" style="top:311.4px;font-size:15px;line-height:20px;color:#1c2b33;left:580px;transform-origin:0 0;">.</span>
<span class="t" style="top:310.4px;font-size:15px;line-height:20px;color:#1c2b33;left:606.5px;transform-origin:0 0;transform:scaleX(1.031);">7...</span>
<span class="t" style="top:310.4px;font-size:15px;line-height:20px;color:#1c2b33;right:805px;transform-origin:100% 0;transform:scaleX(0.971);">415</span>
<span class="t" style="top:332.4px;font-size:13.8px;line-height:20px;color:#6f7880;right:805px;transform-origin:100% 0;transform:scaleX(0.938);">On-Facebook leads</span>
<span class="t" style="top:310.4px;font-size:15px;line-height:20px;color:#1c2b33;right:656px;transform-origin:100% 0;transform:scaleX(1.095);">583,356</span>
<span class="t" style="top:310.4px;font-size:15px;line-height:20px;color:#1c2b33;right:507px;transform-origin:100% 0;">1,350,017</span>
<span class="t" style="top:310.4px;font-size:15px;line-height:20px;color:#1c2b33;right:358px;transform-origin:100% 0;transform:scaleX(1.045);"><svg class="ru" viewBox="0 0 9 12" width="7.0" height="11.1" style="display:inline-block;vertical-align:-0.4px;margin-right:1.3px;overflow:visible" preserveAspectRatio="none"><path d="M.6 .9 H8.4 M.6 4.1 H8.4 M.6 .9 H3 Q6.6 .9 6.6 4.1 Q6.6 7.1 3 7.1 H.8 L6.2 11.6" fill="none" stroke="currentColor" stroke-width="1.45" stroke-linejoin="round"/></svg>593.51</span>
<span class="t" style="top:332.4px;font-size:13.8px;line-height:20px;color:#6f7880;left:1112.5px;transform-origin:0 0;transform:scaleX(0.968);">Per on-Facebook l…</span>
<span class="t" style="top:310.4px;font-size:15px;line-height:20px;color:#1c2b33;right:209px;transform-origin:100% 0;transform:scaleX(1.100);"><svg class="ru" viewBox="0 0 9 12" width="7.0" height="11.1" style="display:inline-block;vertical-align:-0.4px;margin-right:1.3px;overflow:visible" preserveAspectRatio="none"><path d="M.6 .9 H8.4 M.6 4.1 H8.4 M.6 .9 H3 Q6.6 .9 6.6 4.1 Q6.6 7.1 3 7.1 H.8 L6.2 11.6" fill="none" stroke="currentColor" stroke-width="1.45" stroke-linejoin="round"/></svg>246,308.28</span>
<span class="t" style="top:310.4px;font-size:15px;line-height:20px;color:#1c2b33;right:98px;transform-origin:100% 0;transform:scaleX(1.075);">Ongoing</span>
<div style="left:85px;top:368.20000000000005px;width:26px;height:26px;background:#fff;border:1.3px solid #d8dce0;border-radius:5px;"></div>
<div style="left:152px;top:369.20000000000005px;width:42px;height:24px;background:#fff;border:1.2px solid #d9dce0;border-radius:12px;"></div>
<div style="left:154.8px;top:372.00000000000006px;width:18.4px;height:18.4px;background:#243540;border-radius:50%;clip-path:inset(0 0 0.0px 0);"></div>
<span class="t" style="top:361.5px;font-size:15px;line-height:20px;color:#1f63b8;left:409.5px;transform-origin:0 0;transform:scaleX(1.033);">Akash India</span>
<span class="t" style="top:362.5px;font-size:15px;line-height:20px;color:#1c2b33;left:580px;transform-origin:0 0;">.</span>
<span class="t" style="top:361.5px;font-size:15px;line-height:20px;color:#1c2b33;left:606.5px;transform-origin:0 0;transform:scaleX(1.031);">7...</span>
<span class="t" style="top:361.5px;font-size:15px;line-height:20px;color:#1c2b33;right:805px;transform-origin:100% 0;transform:scaleX(1.091);">292</span>
<span class="t" style="top:383.5px;font-size:13.8px;line-height:20px;color:#6f7880;right:805px;transform-origin:100% 0;transform:scaleX(1.016);">Link Clicks</span>
<span class="t" style="top:361.5px;font-size:15px;line-height:20px;color:#1c2b33;right:656px;transform-origin:100% 0;transform:scaleX(1.005);">115,777</span>
<span class="t" style="top:361.5px;font-size:15px;line-height:20px;color:#1c2b33;right:507px;transform-origin:100% 0;transform:scaleX(1.040);">125,050</span>
<span class="t" style="top:361.5px;font-size:15px;line-height:20px;color:#1c2b33;right:358px;transform-origin:100% 0;transform:scaleX(1.093);"><svg class="ru" viewBox="0 0 9 12" width="7.0" height="11.1" style="display:inline-block;vertical-align:-0.4px;margin-right:1.3px;overflow:visible" preserveAspectRatio="none"><path d="M.6 .9 H8.4 M.6 4.1 H8.4 M.6 .9 H3 Q6.6 .9 6.6 4.1 Q6.6 7.1 3 7.1 H.8 L6.2 11.6" fill="none" stroke="currentColor" stroke-width="1.45" stroke-linejoin="round"/></svg>4.69</span>
<span class="t" style="top:383.5px;font-size:13.8px;line-height:20px;color:#6f7880;right:358px;transform-origin:100% 0;transform:scaleX(1.017);">Per link click</span>
<span class="t" style="top:361.5px;font-size:15px;line-height:20px;color:#1c2b33;right:209px;transform-origin:100% 0;transform:scaleX(1.051);"><svg class="ru" viewBox="0 0 9 12" width="7.0" height="11.1" style="display:inline-block;vertical-align:-0.4px;margin-right:1.3px;overflow:visible" preserveAspectRatio="none"><path d="M.6 .9 H8.4 M.6 4.1 H8.4 M.6 .9 H3 Q6.6 .9 6.6 4.1 Q6.6 7.1 3 7.1 H.8 L6.2 11.6" fill="none" stroke="currentColor" stroke-width="1.45" stroke-linejoin="round"/></svg>1,370.86</span>
<span class="t" style="top:361.5px;font-size:15px;line-height:20px;color:#1c2b33;right:98px;transform-origin:100% 0;transform:scaleX(1.075);">Ongoing</span>
<div style="left:85px;top:419.3px;width:26px;height:26px;background:#fff;border:1.3px solid #d8dce0;border-radius:5px;"></div>
<div style="left:152px;top:420.3px;width:42px;height:24px;background:#fff;border:1.2px solid #d9dce0;border-radius:12px;"></div>
<div style="left:154.8px;top:423.1px;width:18.4px;height:18.4px;background:#243540;border-radius:50%;clip-path:inset(0 0 0.0px 0);"></div>
<span class="t" style="top:412.6px;font-size:15px;line-height:20px;color:#1f63b8;left:410px;transform-origin:0 0;transform:scaleX(1.071);">Feb 24</span>
<span class="t" style="top:413.6px;font-size:15px;line-height:20px;color:#1c2b33;left:580px;transform-origin:0 0;">.</span>
<span class="t" style="top:412.6px;font-size:15px;line-height:20px;color:#1c2b33;left:606.5px;transform-origin:0 0;transform:scaleX(1.031);">7...</span>
<span class="t" style="top:412.6px;font-size:15px;line-height:20px;color:#1c2b33;right:805px;transform-origin:100% 0;transform:scaleX(0.971);">143</span>
<span class="t" style="top:434.6px;font-size:13.8px;line-height:20px;color:#6f7880;right:805px;transform-origin:100% 0;transform:scaleX(0.938);">On-Facebook leads</span>
<span class="t" style="top:412.6px;font-size:15px;line-height:20px;color:#1c2b33;right:656px;transform-origin:100% 0;transform:scaleX(1.092);">68,586</span>
<span class="t" style="top:412.6px;font-size:15px;line-height:20px;color:#1c2b33;right:507px;transform-origin:100% 0;transform:scaleX(1.040);">127,472</span>
<span class="t" style="top:412.6px;font-size:15px;line-height:20px;color:#1c2b33;right:358px;transform-origin:100% 0;transform:scaleX(1.100);"><svg class="ru" viewBox="0 0 9 12" width="7.0" height="11.1" style="display:inline-block;vertical-align:-0.4px;margin-right:1.3px;overflow:visible" preserveAspectRatio="none"><path d="M.6 .9 H8.4 M.6 4.1 H8.4 M.6 .9 H3 Q6.6 .9 6.6 4.1 Q6.6 7.1 3 7.1 H.8 L6.2 11.6" fill="none" stroke="currentColor" stroke-width="1.45" stroke-linejoin="round"/></svg>444.58</span>
<span class="t" style="top:434.6px;font-size:13.8px;line-height:20px;color:#6f7880;left:1112.5px;transform-origin:0 0;transform:scaleX(0.968);">Per on-Facebook l…</span>
<span class="t" style="top:412.6px;font-size:15px;line-height:20px;color:#1c2b33;right:209px;transform-origin:100% 0;transform:scaleX(1.098);"><svg class="ru" viewBox="0 0 9 12" width="7.0" height="11.1" style="display:inline-block;vertical-align:-0.4px;margin-right:1.3px;overflow:visible" preserveAspectRatio="none"><path d="M.6 .9 H8.4 M.6 4.1 H8.4 M.6 .9 H3 Q6.6 .9 6.6 4.1 Q6.6 7.1 3 7.1 H.8 L6.2 11.6" fill="none" stroke="currentColor" stroke-width="1.45" stroke-linejoin="round"/></svg>63,574.34</span>
<span class="t" style="top:412.6px;font-size:15px;line-height:20px;color:#1c2b33;right:98px;transform-origin:100% 0;transform:scaleX(1.075);">Ongoing</span>
<div style="left:85px;top:470.40000000000003px;width:26px;height:26px;background:#fff;border:1.3px solid #d8dce0;border-radius:5px;"></div>
<div style="left:152px;top:471.40000000000003px;width:42px;height:24px;background:#fff;border:1.2px solid #d9dce0;border-radius:12px;"></div>
<div style="left:154.8px;top:474.20000000000005px;width:18.4px;height:18.4px;background:#243540;border-radius:50%;clip-path:inset(0 0 0.0px 0);"></div>
<span class="t" style="top:463.7px;font-size:15px;line-height:20px;color:#1f63b8;left:409.5px;transform-origin:0 0;transform:scaleX(1.017);">Akash USA</span>
<span class="t" style="top:464.7px;font-size:15px;line-height:20px;color:#1c2b33;left:580px;transform-origin:0 0;">.</span>
<span class="t" style="top:463.7px;font-size:15px;line-height:20px;color:#1c2b33;left:606.5px;transform-origin:0 0;transform:scaleX(1.031);">7...</span>
<span class="t" style="top:463.7px;font-size:15px;line-height:20px;color:#1c2b33;right:805px;transform-origin:100% 0;transform:scaleX(1.079);">72</span>
<span class="t" style="top:485.7px;font-size:13.8px;line-height:20px;color:#6f7880;right:805px;transform-origin:100% 0;transform:scaleX(1.016);">Link Clicks</span>
<span class="t" style="top:463.7px;font-size:15px;line-height:20px;color:#1c2b33;right:656px;transform-origin:100% 0;transform:scaleX(1.087);">6,308</span>
<span class="t" style="top:463.7px;font-size:15px;line-height:20px;color:#1c2b33;right:507px;transform-origin:100% 0;transform:scaleX(1.087);">7,292</span>
<span class="t" style="top:463.7px;font-size:15px;line-height:20px;color:#1c2b33;right:358px;transform-origin:100% 0;transform:scaleX(1.032);"><svg class="ru" viewBox="0 0 9 12" width="7.0" height="11.1" style="display:inline-block;vertical-align:-0.4px;margin-right:1.3px;overflow:visible" preserveAspectRatio="none"><path d="M.6 .9 H8.4 M.6 4.1 H8.4 M.6 .9 H3 Q6.6 .9 6.6 4.1 Q6.6 7.1 3 7.1 H.8 L6.2 11.6" fill="none" stroke="currentColor" stroke-width="1.45" stroke-linejoin="round"/></svg>91.34</span>
<span class="t" style="top:485.7px;font-size:13.8px;line-height:20px;color:#6f7880;right:358px;transform-origin:100% 0;transform:scaleX(1.017);">Per link click</span>
<span class="t" style="top:463.7px;font-size:15px;line-height:20px;color:#1c2b33;right:209px;transform-origin:100% 0;transform:scaleX(1.051);"><svg class="ru" viewBox="0 0 9 12" width="7.0" height="11.1" style="display:inline-block;vertical-align:-0.4px;margin-right:1.3px;overflow:visible" preserveAspectRatio="none"><path d="M.6 .9 H8.4 M.6 4.1 H8.4 M.6 .9 H3 Q6.6 .9 6.6 4.1 Q6.6 7.1 3 7.1 H.8 L6.2 11.6" fill="none" stroke="currentColor" stroke-width="1.45" stroke-linejoin="round"/></svg>6,576.17</span>
<span class="t" style="top:463.7px;font-size:15px;line-height:20px;color:#1c2b33;right:98px;transform-origin:100% 0;transform:scaleX(1.075);">Ongoing</span>
<div style="left:85px;top:521.5px;width:26px;height:26px;background:#fff;border:1.3px solid #d8dce0;border-radius:5px;"></div>
<div style="left:152px;top:522.5px;width:42px;height:24px;background:#fff;border:1.2px solid #d9dce0;border-radius:12px;"></div>
<div style="left:154.8px;top:525.3px;width:18.4px;height:18.4px;background:#243540;border-radius:50%;clip-path:inset(0 0 0.0px 0);"></div>
<span class="t" style="top:514.8px;font-size:15px;line-height:20px;color:#1f63b8;left:411px;transform-origin:0 0;transform:scaleX(1.010);">e India</span>
<span class="t" style="top:515.8px;font-size:15px;line-height:20px;color:#1c2b33;left:580px;transform-origin:0 0;">.</span>
<span class="t" style="top:514.8px;font-size:15px;line-height:20px;color:#1c2b33;left:606.5px;transform-origin:0 0;transform:scaleX(1.031);">7...</span>
<span class="t" style="top:514.8px;font-size:15px;line-height:20px;color:#1c2b33;right:805px;transform-origin:100% 0;transform:scaleX(1.079);">28</span>
<span class="t" style="top:536.8px;font-size:13.8px;line-height:20px;color:#6f7880;right:805px;transform-origin:100% 0;transform:scaleX(1.016);">Link Clicks</span>
<span class="t" style="top:514.8px;font-size:15px;line-height:20px;color:#1c2b33;right:656px;transform-origin:100% 0;transform:scaleX(1.087);">8,754</span>
<span class="t" style="top:514.8px;font-size:15px;line-height:20px;color:#1c2b33;right:507px;transform-origin:100% 0;transform:scaleX(1.087);">8,806</span>
<span class="t" style="top:514.8px;font-size:15px;line-height:20px;color:#1c2b33;right:358px;transform-origin:100% 0;transform:scaleX(1.013);"><svg class="ru" viewBox="0 0 9 12" width="7.0" height="11.1" style="display:inline-block;vertical-align:-0.4px;margin-right:1.3px;overflow:visible" preserveAspectRatio="none"><path d="M.6 .9 H8.4 M.6 4.1 H8.4 M.6 .9 H3 Q6.6 .9 6.6 4.1 Q6.6 7.1 3 7.1 H.8 L6.2 11.6" fill="none" stroke="currentColor" stroke-width="1.45" stroke-linejoin="round"/></svg>6.19</span>
<span class="t" style="top:536.8px;font-size:13.8px;line-height:20px;color:#6f7880;right:358px;transform-origin:100% 0;transform:scaleX(1.017);">Per link click</span>
<span class="t" style="top:514.8px;font-size:15px;line-height:20px;color:#1c2b33;right:209px;transform-origin:100% 0;transform:scaleX(1.045);"><svg class="ru" viewBox="0 0 9 12" width="7.0" height="11.1" style="display:inline-block;vertical-align:-0.4px;margin-right:1.3px;overflow:visible" preserveAspectRatio="none"><path d="M.6 .9 H8.4 M.6 4.1 H8.4 M.6 .9 H3 Q6.6 .9 6.6 4.1 Q6.6 7.1 3 7.1 H.8 L6.2 11.6" fill="none" stroke="currentColor" stroke-width="1.45" stroke-linejoin="round"/></svg>173.40</span>
<span class="t" style="top:514.8px;font-size:15px;line-height:20px;color:#1c2b33;right:98px;transform-origin:100% 0;transform:scaleX(1.075);">Ongoing</span>
<div style="left:85px;top:572.6px;width:26px;height:26px;background:#fff;border:1.3px solid #d8dce0;border-radius:5px;"></div>
<div style="left:152px;top:573.6px;width:42px;height:24px;background:#fff;border:1.2px solid #d9dce0;border-radius:12px;"></div>
<div style="left:154.8px;top:576.4px;width:18.4px;height:18.4px;background:#243540;border-radius:50%;clip-path:inset(0 0 0.0px 0);"></div>
<span class="t" style="top:565.9px;font-size:15px;line-height:20px;color:#1f63b8;left:417.5px;transform-origin:0 0;transform:scaleX(1.040);">aign</span>
<span class="t" style="top:566.9px;font-size:15px;line-height:20px;color:#1c2b33;left:580px;transform-origin:0 0;">.</span>
<span class="t" style="top:565.9px;font-size:15px;line-height:20px;color:#1c2b33;left:606.5px;transform-origin:0 0;transform:scaleX(1.031);">7...</span>
<span class="t" style="top:565.9px;font-size:15px;line-height:20px;color:#1c2b33;right:820px;transform-origin:100% 0;transform:scaleX(1.079);border-bottom:1.5px dotted #1c2b33;line-height:17px;margin-top:1.5px;">25</span>
<span class="t" style="top:564.4px;font-size:9.5px;line-height:20px;color:#1c2b33;right:805px;transform-origin:100% 0;transform:scaleX(1.041);">[2]</span>
<span class="t" style="top:587.9px;font-size:13.8px;line-height:20px;color:#6f7880;left:652.5px;transform-origin:0 0;transform:scaleX(0.974);">Messaging conver…</span>
<span class="t" style="top:565.9px;font-size:15px;line-height:20px;color:#1c2b33;right:656px;transform-origin:100% 0;transform:scaleX(0.918);">11,127</span>
<span class="t" style="top:565.9px;font-size:15px;line-height:20px;color:#1c2b33;right:507px;transform-origin:100% 0;transform:scaleX(0.961);">17,231</span>
<span class="t" style="top:565.9px;font-size:15px;line-height:20px;color:#1c2b33;right:373px;transform-origin:100% 0;transform:scaleX(0.954);border-bottom:1.5px dotted #1c2b33;line-height:17px;margin-top:1.5px;"><svg class="ru" viewBox="0 0 9 12" width="7.0" height="11.1" style="display:inline-block;vertical-align:-0.4px;margin-right:1.3px;overflow:visible" preserveAspectRatio="none"><path d="M.6 .9 H8.4 M.6 4.1 H8.4 M.6 .9 H3 Q6.6 .9 6.6 4.1 Q6.6 7.1 3 7.1 H.8 L6.2 11.6" fill="none" stroke="currentColor" stroke-width="1.45" stroke-linejoin="round"/></svg>157.11</span>
<span class="t" style="top:564.4px;font-size:9.5px;line-height:20px;color:#1c2b33;right:358px;transform-origin:100% 0;transform:scaleX(1.041);">[2]</span>
<span class="t" style="top:587.9px;font-size:13.8px;line-height:20px;color:#6f7880;left:1112.5px;transform-origin:0 0;transform:scaleX(0.965);">Per messaging c…</span>
<span class="t" style="top:565.9px;font-size:15px;line-height:20px;color:#1c2b33;right:209px;transform-origin:100% 0;transform:scaleX(1.096);"><svg class="ru" viewBox="0 0 9 12" width="7.0" height="11.1" style="display:inline-block;vertical-align:-0.4px;margin-right:1.3px;overflow:visible" preserveAspectRatio="none"><path d="M.6 .9 H8.4 M.6 4.1 H8.4 M.6 .9 H3 Q6.6 .9 6.6 4.1 Q6.6 7.1 3 7.1 H.8 L6.2 11.6" fill="none" stroke="currentColor" stroke-width="1.45" stroke-linejoin="round"/></svg>3,927.76</span>
<span class="t" style="top:565.9px;font-size:15px;line-height:20px;color:#1c2b33;right:98px;transform-origin:100% 0;transform:scaleX(1.075);">Ongoing</span>
<div style="left:85px;top:623.7px;width:26px;height:26px;background:#fff;border:1.3px solid #d8dce0;border-radius:5px;"></div>
<div style="left:152px;top:624.7px;width:42px;height:24px;background:#fff;border:1.2px solid #d9dce0;border-radius:12px;"></div>
<div style="left:154.8px;top:627.5px;width:18.4px;height:18.4px;background:#243540;border-radius:50%;clip-path:inset(0 0 0.0px 0);"></div>
<span class="t" style="top:617.0px;font-size:15px;line-height:20px;color:#1f63b8;left:417.5px;transform-origin:0 0;transform:scaleX(1.153);">ly</span>
<span class="t" style="top:618.0px;font-size:15px;line-height:20px;color:#1c2b33;left:580px;transform-origin:0 0;">.</span>
<span class="t" style="top:617.0px;font-size:15px;line-height:20px;color:#1c2b33;left:606.5px;transform-origin:0 0;transform:scaleX(1.031);">7...</span>
<span class="t" style="top:617.0px;font-size:15px;line-height:20px;color:#1c2b33;right:805px;transform-origin:100% 0;transform:scaleX(0.899);">19</span>
<span class="t" style="top:639.0px;font-size:13.8px;line-height:20px;color:#6f7880;right:805px;transform-origin:100% 0;transform:scaleX(0.938);">On-Facebook leads</span>
<span class="t" style="top:617.0px;font-size:15px;line-height:20px;color:#1c2b33;right:656px;transform-origin:100% 0;transform:scaleX(1.092);">25,257</span>
<span class="t" style="top:617.0px;font-size:15px;line-height:20px;color:#1c2b33;right:507px;transform-origin:100% 0;transform:scaleX(1.026);">36,013</span>
<span class="t" style="top:617.0px;font-size:15px;line-height:20px;color:#1c2b33;right:358px;transform-origin:100% 0;transform:scaleX(1.045);"><svg class="ru" viewBox="0 0 9 12" width="7.0" height="11.1" style="display:inline-block;vertical-align:-0.4px;margin-right:1.3px;overflow:visible" preserveAspectRatio="none"><path d="M.6 .9 H8.4 M.6 4.1 H8.4 M.6 .9 H3 Q6.6 .9 6.6 4.1 Q6.6 7.1 3 7.1 H.8 L6.2 11.6" fill="none" stroke="currentColor" stroke-width="1.45" stroke-linejoin="round"/></svg>994.15</span>
<span class="t" style="top:639.0px;font-size:13.8px;line-height:20px;color:#6f7880;left:1112.5px;transform-origin:0 0;transform:scaleX(0.968);">Per on-Facebook l…</span>
<span class="t" style="top:617.0px;font-size:15px;line-height:20px;color:#1c2b33;right:209px;transform-origin:100% 0;transform:scaleX(1.058);"><svg class="ru" viewBox="0 0 9 12" width="7.0" height="11.1" style="display:inline-block;vertical-align:-0.4px;margin-right:1.3px;overflow:visible" preserveAspectRatio="none"><path d="M.6 .9 H8.4 M.6 4.1 H8.4 M.6 .9 H3 Q6.6 .9 6.6 4.1 Q6.6 7.1 3 7.1 H.8 L6.2 11.6" fill="none" stroke="currentColor" stroke-width="1.45" stroke-linejoin="round"/></svg>18,888.77</span>
<span class="t" style="top:617.0px;font-size:15px;line-height:20px;color:#1c2b33;right:98px;transform-origin:100% 0;transform:scaleX(1.075);">Ongoing</span>
<div style="left:85px;top:674.8px;width:26px;height:22.200000000000045px;background:#fff;border:1.3px solid #d8dce0;border-radius:5px;border-bottom:none;border-radius:5px 5px 0 0;"></div>
<div style="left:152px;top:675.8px;width:42px;height:21.200000000000045px;background:#fff;border:1.2px solid #d9dce0;border-radius:12px;border-bottom:none;border-radius:12px 12px 0 0;"></div>
<div style="left:154.8px;top:678.5999999999999px;width:18.4px;height:18.4px;background:#243540;border-radius:50%;clip-path:inset(0 0 0.0px 0);"></div>
<span class="t" style="top:668.1px;font-size:15px;line-height:20px;color:#1f63b8;left:416.5px;transform-origin:0 0;transform:scaleX(1.076);">campaign</span>
<span class="t" style="top:669.1px;font-size:15px;line-height:20px;color:#1c2b33;left:580px;transform-origin:0 0;">.</span>
<span class="t" style="top:668.1px;font-size:15px;line-height:20px;color:#1c2b33;left:606.5px;transform-origin:0 0;transform:scaleX(1.031);">7...</span>
<span class="t" style="top:668.1px;font-size:15px;line-height:20px;color:#1c2b33;right:805px;transform-origin:100% 0;transform:scaleX(0.899);">16</span>
<span class="t" style="top:690.1px;font-size:13.8px;line-height:20px;color:#6f7880;right:805px;transform-origin:100% 0;transform:scaleX(0.938);clip-path:inset(0 0 13px 0);">On-Facebook leads</span>
<span class="t" style="top:668.1px;font-size:15px;line-height:20px;color:#1c2b33;right:656px;transform-origin:100% 0;transform:scaleX(1.092);">36,655</span>
<span class="t" style="top:668.1px;font-size:15px;line-height:20px;color:#1c2b33;right:507px;transform-origin:100% 0;transform:scaleX(1.092);">60,690</span>
<span class="t" style="top:668.1px;font-size:15px;line-height:20px;color:#1c2b33;right:358px;transform-origin:100% 0;transform:scaleX(1.006);"><svg class="ru" viewBox="0 0 9 12" width="7.0" height="11.1" style="display:inline-block;vertical-align:-0.4px;margin-right:1.3px;overflow:visible" preserveAspectRatio="none"><path d="M.6 .9 H8.4 M.6 4.1 H8.4 M.6 .9 H3 Q6.6 .9 6.6 4.1 Q6.6 7.1 3 7.1 H.8 L6.2 11.6" fill="none" stroke="currentColor" stroke-width="1.45" stroke-linejoin="round"/></svg>1,125.97</span>
<span class="t" style="top:690.1px;font-size:13.8px;line-height:20px;color:#6f7880;left:1112.5px;transform-origin:0 0;transform:scaleX(0.968);clip-path:inset(0 0 13px 0);">Per on-Facebook l…</span>
<span class="t" style="top:668.1px;font-size:15px;line-height:20px;color:#1c2b33;right:209px;transform-origin:100% 0;transform:scaleX(1.018);"><svg class="ru" viewBox="0 0 9 12" width="7.0" height="11.1" style="display:inline-block;vertical-align:-0.4px;margin-right:1.3px;overflow:visible" preserveAspectRatio="none"><path d="M.6 .9 H8.4 M.6 4.1 H8.4 M.6 .9 H3 Q6.6 .9 6.6 4.1 Q6.6 7.1 3 7.1 H.8 L6.2 11.6" fill="none" stroke="currentColor" stroke-width="1.45" stroke-linejoin="round"/></svg>18,015.57</span>
<span class="t" style="top:668.1px;font-size:15px;line-height:20px;color:#1c2b33;right:98px;transform-origin:100% 0;transform:scaleX(1.075);">Ongoing</span>
<svg style="left:461px;top:516.5px;" width="14" height="14" viewBox="0 0 14 14"><path d="M1 13 L1.6 9.6 L9.6 1.6 Q10.6 .6 11.6 1.6 L12.4 2.4 Q13.4 3.4 12.4 4.4 L4.4 12.4 Z" fill="#4b5660"/></svg>
<span class="t" style="top:537.8px;font-size:13.5px;line-height:20px;color:#1c2b33;left:411px;transform-origin:0 0;transform:scaleX(1.031);">Duplicate</span>
<svg style="left:483px;top:542.0px;" width="13" height="13" viewBox="0 0 13 13"><rect x="0" y="0" width="13" height="12.6" rx="1.6" fill="#1c2b33"/><path d="M2.4 8.8 L5.4 5.8 L7.2 7.6 L10.4 4.4 M7.8 4 H10.6 V6.8" fill="none" stroke="#fff" stroke-width="1.2"/></svg>
<svg style="left:524px;top:545.5px;" width="15" height="4" viewBox="0 0 15 4"><g fill="#1c2b33"><circle cx="2" cy="2" r="1.6"/><circle cx="7.4" cy="2" r="1.6"/><circle cx="12.8" cy="2" r="1.6"/></g></svg>
<div style="left:727.5px;top:295.5px;width:3.5px;height:1.8px;background:#8a9299;border-radius:1px;"></div>
<div style="left:743px;top:295.5px;width:4px;height:1.8px;background:#8a9299;border-radius:1px;"></div>
<div style="left:1188px;top:295.5px;width:2px;height:2px;background:#7a838b;border-radius:1px;"></div>
<div style="left:1203px;top:295.5px;width:2px;height:2px;background:#7a838b;border-radius:1px;"></div>
<div style="left:71px;top:697px;width:1471px;height:72px;background:#fff;box-shadow:0 -3px 5px rgba(60,70,80,.13);"></div>
<div style="left:124.6px;top:697px;width:1px;height:71px;background:#e3e6e9;"></div>
<div style="left:219.7px;top:697px;width:1px;height:71px;background:#e3e6e9;"></div>
<div style="left:597.9px;top:697px;width:1px;height:71px;background:#e3e6e9;"></div>
<div style="left:641.9px;top:697px;width:1px;height:71px;background:#e3e6e9;"></div>
<div style="left:804.5px;top:697px;width:1px;height:71px;background:#e3e6e9;"></div>
<div style="left:953.2px;top:697px;width:1px;height:71px;background:#e3e6e9;"></div>
<div style="left:1102px;top:697px;width:1px;height:71px;background:#e3e6e9;"></div>
<div style="left:1250.9px;top:697px;width:1px;height:71px;background:#e3e6e9;"></div>
<div style="left:1399.9px;top:697px;width:1px;height:71px;background:#e3e6e9;"></div>
<div style="left:1511px;top:697px;width:1px;height:71px;background:#e3e6e9;"></div>
<div style="left:577px;top:697px;width:1.6px;height:71px;background:#d6d9dd;"></div>
<div style="left:578.6px;top:697px;width:4px;height:71px;background:linear-gradient(90deg,rgba(110,118,128,.14),rgba(110,118,128,0));"></div>
<span class="t" style="top:706.4px;font-size:15px;line-height:20px;color:#1c2b33;left:234px;transform-origin:0 0;transform:scaleX(1.078);">Results from 33 campaigns</span>
<svg style="left:434px;top:709px;" width="14" height="14" viewBox="0 0 14 14"><circle cx="7" cy="7" r="6.4" fill="#1c2b33"/><rect x="6.1" y="6" width="1.9" height="5" fill="#fff"/><circle cx="7" cy="3.8" r="1.1" fill="#fff"/></svg>
<span class="t" style="top:728.0px;font-size:13.8px;line-height:20px;color:#6f7880;left:234px;transform-origin:0 0;transform:scaleX(1.022);">Excludes deleted items</span>
<span class="t" style="top:706.3px;font-size:15px;line-height:20px;color:#1c2b33;left:606.5px;transform-origin:0 0;transform:scaleX(1.031);">7...</span>
<span class="t" style="top:706.0px;font-size:15px;line-height:20px;color:#1c2b33;right:803px;transform-origin:100% 0;transform:scaleX(0.800);">—</span>
<span class="t" style="top:728.0px;font-size:13.8px;line-height:20px;color:#6f7880;right:803px;transform-origin:100% 0;transform:scaleX(1.032);">Multiple conversions</span>
<span class="t" style="top:706.0px;font-size:15px;line-height:20px;color:#1c2b33;right:654px;transform-origin:100% 0;transform:scaleX(1.047);border-bottom:1.5px dotted #1c2b33;line-height:17px;margin-top:1.5px;">1,277,542</span>
<span class="t" style="top:728.0px;font-size:13.8px;line-height:20px;color:#6f7880;left:817.5px;transform-origin:0 0;transform:scaleX(0.974);">Accounts Centre a…</span>
<span class="t" style="top:706.0px;font-size:15px;line-height:20px;color:#1c2b33;right:505px;transform-origin:100% 0;transform:scaleX(1.092);">2,352,846</span>
<span class="t" style="top:728.0px;font-size:13.8px;line-height:20px;color:#6f7880;right:505px;transform-origin:100% 0;transform:scaleX(1.029);">Total</span>
<span class="t" style="top:706.0px;font-size:15px;line-height:20px;color:#1c2b33;right:356px;transform-origin:100% 0;transform:scaleX(0.800);">—</span>
<span class="t" style="top:728.0px;font-size:13.8px;line-height:20px;color:#6f7880;right:356px;transform-origin:100% 0;transform:scaleX(1.032);">Multiple conversions</span>
<span class="t" style="top:706.0px;font-size:15px;line-height:20px;color:#1c2b33;right:207px;transform-origin:100% 0;transform:scaleX(1.100);"><svg class="ru" viewBox="0 0 9 12" width="7.0" height="11.1" style="display:inline-block;vertical-align:-0.4px;margin-right:1.3px;overflow:visible" preserveAspectRatio="none"><path d="M.6 .9 H8.4 M.6 4.1 H8.4 M.6 .9 H3 Q6.6 .9 6.6 4.1 Q6.6 7.1 3 7.1 H.8 L6.2 11.6" fill="none" stroke="currentColor" stroke-width="1.45" stroke-linejoin="round"/></svg>464,278.06</span>
<span class="t" style="top:728.0px;font-size:13.8px;line-height:20px;color:#6f7880;right:207px;transform-origin:100% 0;transform:scaleX(1.028);">Total Spent</span>
<div style="left:1530px;top:323.5px;width:8px;height:84px;background:#c4c4c4;border-radius:4px;"></div>
<div style="left:71px;top:767.4px;width:1471px;height:18.8px;background:#f5f5f6;border-top:1px solid #e2e4e7;border-radius:0 0 10px 10px;"></div>
<div style="left:373.5px;top:772px;width:870px;height:8.4px;background:#bdbdbd;border-radius:4.2px;"></div>
<div style="left:227px;top:298px;width:190px;height:392px;background:rgba(250,251,253,.72);"></div>
<div style="left:240px;top:298px;width:40px;height:62px;background:#f1f4fa;"></div>
<div style="left:280px;top:298px;width:40px;height:62px;background:#f2f5fa;"></div>
<div style="left:320px;top:298px;width:40px;height:62px;background:#f1f4fa;"></div>
<div style="left:360px;top:298px;width:40px;height:62px;background:#f3f6fb;"></div>
<div style="left:400px;top:298px;width:17px;height:62px;background:#f3f6fb;"></div>
<div style="left:240px;top:360px;width:40px;height:40px;background:#e0e7f1;"></div>
<div style="left:280px;top:360px;width:40px;height:40px;background:#e1e8f2;"></div>
<div style="left:320px;top:360px;width:40px;height:40px;background:#dde5f0;"></div>
<div style="left:360px;top:360px;width:40px;height:40px;background:#e2e9f3;"></div>
<div style="left:400px;top:360px;width:17px;height:40px;background:#e2e9f3;"></div>
<div style="left:240px;top:400px;width:40px;height:40px;background:#ebf0f8;"></div>
<div style="left:280px;top:400px;width:40px;height:40px;background:#e9eff7;"></div>
<div style="left:320px;top:400px;width:40px;height:40px;background:#edf2f9;"></div>
<div style="left:360px;top:400px;width:40px;height:40px;background:#eaf0f8;"></div>
<div style="left:400px;top:400px;width:17px;height:40px;background:#eaf0f8;"></div>
<div style="left:240px;top:440px;width:40px;height:40px;background:#e1e8f2;"></div>
<div style="left:280px;top:440px;width:40px;height:40px;background:#e2e9f3;"></div>
<div style="left:320px;top:440px;width:40px;height:40px;background:#dfe7f1;"></div>
<div style="left:360px;top:440px;width:40px;height:40px;background:#e4ebf4;"></div>
<div style="left:400px;top:440px;width:17px;height:40px;background:#e4ebf4;"></div>
<div style="left:240px;top:520px;width:40px;height:40px;background:#c4c9d1;"></div>
<div style="left:280px;top:520px;width:40px;height:40px;background:#c0c6ce;"></div>
<div style="left:320px;top:520px;width:40px;height:40px;background:#c5cad2;"></div>
<div style="left:360px;top:520px;width:40px;height:40px;background:#bfc5cd;"></div>
<div style="left:400px;top:520px;width:17px;height:40px;background:#c3c8d0;"></div>
<div style="left:240px;top:560px;width:40px;height:40px;background:#e3eaf4;"></div>
<div style="left:280px;top:560px;width:40px;height:40px;background:#e5ecf5;"></div>
<div style="left:320px;top:560px;width:40px;height:40px;background:#e4ebf4;"></div>
<div style="left:360px;top:560px;width:40px;height:40px;background:#e4ebf4;"></div>
<div style="left:400px;top:560px;width:17px;height:40px;background:#e3eaf4;"></div>
<div style="left:240px;top:600px;width:40px;height:40px;background:#e9eef6;"></div>
<div style="left:280px;top:600px;width:40px;height:40px;background:#e5ebf3;"></div>
<div style="left:320px;top:600px;width:40px;height:40px;background:#eef2f8;"></div>
<div style="left:360px;top:600px;width:40px;height:40px;background:#eaeff6;"></div>
<div style="left:400px;top:600px;width:17px;height:40px;background:#edf1f7;"></div>
<div style="left:240px;top:640px;width:40px;height:41px;background:#ecf0f6;"></div>
<div style="left:280px;top:640px;width:40px;height:41px;background:#ecf0f6;"></div>
<div style="left:320px;top:640px;width:40px;height:41px;background:#edf1f7;"></div>
<div style="left:360px;top:640px;width:40px;height:41px;background:#edf1f7;"></div>
<div style="left:400px;top:640px;width:17px;height:41px;background:#edf1f7;"></div>
<div style="left:240px;top:681px;width:40px;height:8px;background:#d6dae0;"></div>
<div style="left:280px;top:681px;width:40px;height:8px;background:#dadde2;"></div>
<div style="left:320px;top:681px;width:40px;height:8px;background:#d9dce2;"></div>
<div style="left:360px;top:681px;width:40px;height:8px;background:#d5d9df;"></div>
<div style="left:400px;top:681px;width:17px;height:8px;background:#d6dae0;"></div>
<div style="left:227px;top:480px;width:190px;height:40px;background:#f1f1f1;"></div>
<div style="left:605px;top:255.5px;width:215px;height:464.5px;border:7px solid #f74747;border-top-width:6.5px;border-bottom-width:6.5px;"></div>
</body></html>
